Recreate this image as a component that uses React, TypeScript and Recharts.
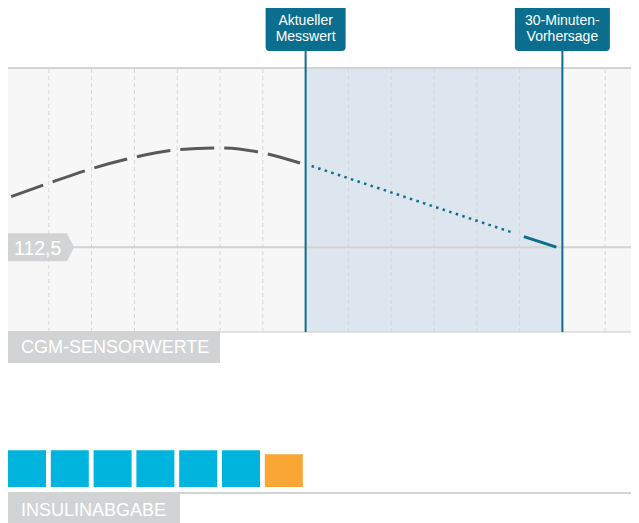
import React from 'react';
import {
  Bar,
  BarChart,
  Cell,
  ComposedChart,
  Line,
  ReferenceArea,
  ReferenceLine,
  XAxis,
  YAxis,
} from 'recharts';

// CGM readings (minutes relative to the current reading, mg/dl)
const cgmTimes = [-34.4, -30, -25, -20, -15, -10, -5, -0.65];
const cgmValues = [125.9, 129.45, 133.3, 136.3, 138.3, 138.8, 137.5, 134.8];

// forecast: dotted part, then the short solid part at the end
const dottedTimes = [0.7, 24.4];
const dottedValues = [134.0, 116.2];
const solidTimes = [25.5, 29.3];
const solidValues = [115.3, 112.5];

const gridTimes = [-30, -25, -20, -15, -10, -5, 5, 10, 15, 20, 25, 35];
const markerTimes = [0, 30];
const markerLabels = [
  ['Aktueller', 'Messwert'],
  ['30-Minuten-', 'Vorhersage'],
];
const thresholdValue = 112.5;
const thresholdLabel = '112,5';

// insulin delivery per 5 minute slot
const insulinSlots = ['-35', '-30', '-25', '-20', '-15', '-10', '-5'];
const insulinValues = [1, 1, 1, 1, 1, 1, 0.89];
const insulinKinds = ['basal', 'basal', 'basal', 'basal', 'basal', 'basal', 'bolus'];

const FONT = '"Liberation Sans", Arial, Helvetica, sans-serif';
const TEAL = '#0b6e8e';
const TAG_GREY = '#d1d3d4';

const cgmData = cgmTimes.map((t, i) => ({ t, v: cgmValues[i] }));
const dottedData = dottedTimes.map((t, i) => ({ t, v: dottedValues[i] }));
const solidData = solidTimes.map((t, i) => ({ t, v: solidValues[i] }));
const insulinData = insulinSlots.map((slot, i) => ({
  slot,
  value: insulinValues[i],
  kind: insulinKinds[i],
}));

const X_DOMAIN: [number, number] = [-34.77, 38.95];

function MarkerLabel({ viewBox, lines, boxWidth }: any) {
  const x = viewBox.x;
  const top = viewBox.y;
  return (
    <g>
      <line x1={x} x2={x} y1={50} y2={top} stroke={TEAL} strokeWidth={2} />
      <rect x={x - boxWidth / 2} y={3} width={boxWidth} height={48} rx={4} fill={TEAL} />
      {lines.map((line: string, i: number) => (
        <text
          key={line}
          x={x}
          y={25 + i * 16}
          textAnchor="middle"
          fill="#fff"
          fontSize={14}
          fontFamily={FONT}
        >
          {line}
        </text>
      ))}
    </g>
  );
}

function ThresholdTag({ viewBox }: any) {
  const y = viewBox.y;
  const left = 8;
  return (
    <g>
      <path
        d={`M${left},${y - 14} L${left + 59},${y - 14} L${left + 66},${y} L${left + 59},${y + 14} L${left},${y + 14} Z`}
        fill={TAG_GREY}
      />
      <text x={left + 6} y={y + 7.5} fill="#fff" fontSize={19.5} fontFamily={FONT}>
        {thresholdLabel}
      </text>
    </g>
  );
}

function SectionTag({ top, width, text }: { top: number; width: number; text: string }) {
  return (
    <div
      style={{
        position: 'absolute',
        left: 8,
        top,
        width,
        height: 32,
        background: TAG_GREY,
        color: '#fff',
        fontFamily: FONT,
        fontSize: 18,
        lineHeight: '32px',
        paddingLeft: 13,
        boxSizing: 'border-box',
      }}
    >
      {text}
    </div>
  );
}

export default function App() {
  return (
    <div
      style={{
        position: 'relative',
        width: 639,
        height: 523,
        margin: '-8px 0 0 -8px',
        overflow: 'hidden',
        background: '#fff',
      }}
    >
      <div style={{ position: 'absolute', left: 0, top: 0 }}>
        <ComposedChart
          width={639}
          height={340}
          margin={{ top: 68, right: 0, bottom: 8, left: 8 }}
        >
          <XAxis hide type="number" dataKey="t" domain={X_DOMAIN} allowDataOverflow />
          <YAxis hide type="number" domain={[90, 160]} allowDataOverflow />
          <ReferenceArea
            x1={X_DOMAIN[0]}
            x2={X_DOMAIN[1]}
            y1={90}
            y2={160}
            fill="#f7f7f7"
            fillOpacity={1}
            stroke="none"
          />
          <ReferenceArea
            x1={markerTimes[0]}
            x2={markerTimes[1]}
            y1={90}
            y2={160}
            fill="#dde6ee"
            fillOpacity={1}
            stroke="none"
          />
          {gridTimes.map((t) => (
            <ReferenceLine
              key={t}
              x={t}
              stroke="#d4d6d8"
              strokeDasharray="4 3"
              strokeWidth={1}
            />
          ))}
          <ReferenceLine y={160} stroke="#d3d3d3" strokeWidth={2} />
          <ReferenceLine y={90} stroke="#d9dadb" strokeWidth={1.5} />
          <ReferenceLine
            y={thresholdValue}
            stroke="#d3d3d3"
            strokeWidth={2}
            label={(props: any) => <ThresholdTag {...props} />}
          />
          {markerTimes.map((t, i) => (
            <ReferenceLine
              key={`m${t}`}
              x={t}
              stroke={TEAL}
              strokeWidth={2}
              label={(props: any) => (
                <MarkerLabel {...props} lines={markerLabels[i]} boxWidth={i === 0 ? 80 : 95} />
              )}
            />
          ))}
          <Line
            data={cgmData}
            dataKey="v"
            type="monotone"
            stroke="#58595b"
            strokeWidth={3}
            strokeDasharray="34 10"
            dot={false}
            isAnimationActive={false}
          />
          <Line
            data={dottedData}
            dataKey="v"
            type="linear"
            stroke={TEAL}
            strokeWidth={2.5}
            strokeDasharray="2.5 4.4"
            dot={false}
            isAnimationActive={false}
          />
          <Line
            data={solidData}
            dataKey="v"
            type="linear"
            stroke={TEAL}
            strokeWidth={3}
            dot={false}
            isAnimationActive={false}
          />
        </ComposedChart>
      </div>

      <SectionTag top={331} width={212} text="CGM-SENSORWERTE" />

      <div style={{ position: 'absolute', left: 6, top: 443 }}>
        <BarChart
          width={299.6}
          height={44}
          data={insulinData}
          margin={{ top: 0, right: 0, bottom: 0, left: 0 }}
        >
          <XAxis hide dataKey="slot" />
          <YAxis hide domain={[0, 1.2]} />
          <Bar dataKey="value" barSize={38} isAnimationActive={false}>
            {insulinData.map((d) => (
              <Cell key={d.slot} fill={d.kind === 'bolus' ? '#f9a634' : '#00b4de'} />
            ))}
          </Bar>
        </BarChart>
      </div>

      <div
        style={{
          position: 'absolute',
          left: 8,
          top: 492,
          width: 631,
          height: 2,
          background: TAG_GREY,
        }}
      />
      <SectionTag top={494} width={172} text="INSULINABGABE" />
    </div>
  );
}
